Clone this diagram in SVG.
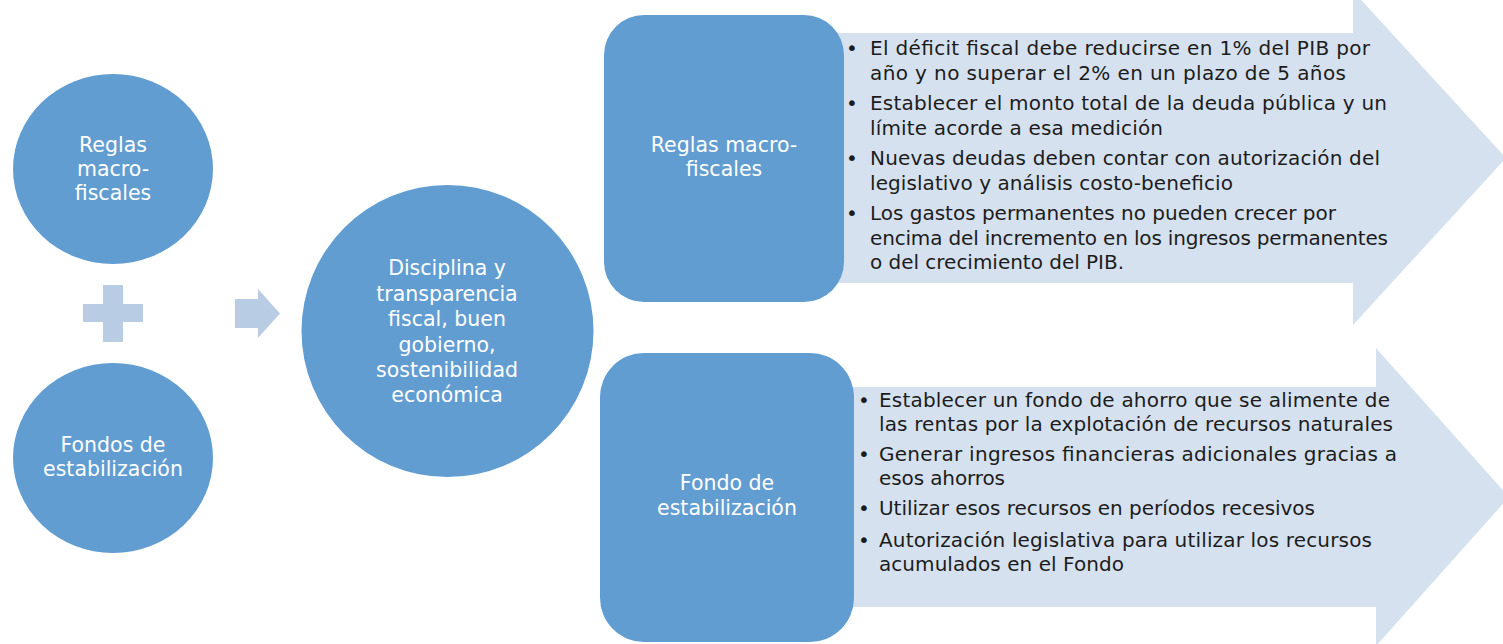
<svg xmlns="http://www.w3.org/2000/svg" width="1503" height="644" viewBox="0 0 1503 644">
<style>
.node{fill:#629DD1;}
.pale{fill:#D6E1EF;}
.conn{fill:#B8CCE4;}
.lbl{font-family:"DejaVu Sans","Liberation Sans",sans-serif;font-size:20.5px;fill:#FFFFFF;text-anchor:middle;}
.bul{font-family:"DejaVu Sans","Liberation Sans",sans-serif;font-size:20px;fill:#1C1C1C;}
</style>
<rect width="1503" height="644" fill="#FFFFFF"/>
<g id="connectors">
<path class="conn" d="M103,285 H123 V304 H143 V322 H123 V342 H103 V322 H83 V304 H103 Z"/>
<path class="conn" d="M235,299 H258 V289 L280,313.5 L258,338 V328 H235 Z"/>
</g>
<g id="arrow-top">
<path class="pale" d="M820,33 H1353 V-9 L1506,158 L1353,325 V283 H820 Z"/>
</g>
<g id="arrow-bottom">
<path class="pale" d="M830,387 H1376 V348 L1509,497 L1376,646 V607 H830 Z"/>
</g>
<g id="node-reglas-circle">
<ellipse class="node" cx="113" cy="169" rx="100" ry="95"/>
<text class="lbl"><tspan x="113" y="152">Reglas</tspan><tspan x="113" y="176">macro-</tspan><tspan x="113" y="200">fiscales</tspan></text>
</g>
<g id="node-fondos-circle">
<ellipse class="node" cx="113" cy="458" rx="100" ry="95"/>
<text class="lbl"><tspan x="113" y="452">Fondos de</tspan><tspan x="113" y="476">estabilización</tspan></text>
</g>
<g id="node-disciplina">
<circle class="node" cx="447.5" cy="331" r="146"/>
<text class="lbl"><tspan x="447" y="275">Disciplina y</tspan><tspan x="447" y="300.5">transparencia</tspan><tspan x="447" y="326">fiscal, buen</tspan><tspan x="447" y="351.5">gobierno,</tspan><tspan x="447" y="377">sostenibilidad</tspan><tspan x="447" y="402">económica</tspan></text>
</g>
<g id="node-reglas-box">
<rect class="node" x="604" y="15" width="240" height="287" rx="40" ry="40"/>
<text class="lbl"><tspan x="724" y="152">Reglas macro-</tspan><tspan x="724" y="176">fiscales</tspan></text>
</g>
<g id="node-fondo-box">
<rect class="node" x="600" y="353" width="254" height="289" rx="44" ry="44"/>
<text class="lbl"><tspan x="727" y="490">Fondo de</tspan><tspan x="727" y="515">estabilización</tspan></text>
</g>
<g id="list-reglas">
<text class="bul" x="846" y="55">•</text>
<text class="bul" x="846" y="110">•</text>
<text class="bul" x="846" y="165">•</text>
<text class="bul" x="846" y="220">•</text>
<text class="bul" x="870" y="55" textLength="500">El déficit fiscal debe reducirse en 1% del PIB por</text>
<text class="bul" x="870" y="79.5" textLength="476">año y no superar el 2% en un plazo de 5 años</text>
<text class="bul" x="870" y="110" textLength="517">Establecer el monto total de la deuda pública y un</text>
<text class="bul" x="870" y="134.5" textLength="293">límite acorde a esa medición</text>
<text class="bul" x="870" y="165" textLength="510">Nuevas deudas deben contar con autorización del</text>
<text class="bul" x="870" y="189.5" textLength="363">legislativo y análisis costo-beneficio</text>
<text class="bul" x="870" y="220" textLength="466">Los gastos permanentes no pueden crecer por</text>
<text class="bul" x="870" y="244.5" textLength="518">encima del incremento en los ingresos permanentes</text>
<text class="bul" x="870" y="269" textLength="254">o del crecimiento del PIB.</text>
</g>
<g id="list-fondo">
<text class="bul" x="858" y="407">•</text>
<text class="bul" x="858" y="461">•</text>
<text class="bul" x="858" y="515">•</text>
<text class="bul" x="858" y="547">•</text>
<text class="bul" x="879" y="407" textLength="511">Establecer un fondo de ahorro que se alimente de</text>
<text class="bul" x="879" y="431" textLength="514">las rentas por la explotación de recursos naturales</text>
<text class="bul" x="879" y="461" textLength="518">Generar ingresos financieras adicionales gracias a</text>
<text class="bul" x="879" y="485" textLength="126">esos ahorros</text>
<text class="bul" x="879" y="515" textLength="436">Utilizar esos recursos en períodos recesivos</text>
<text class="bul" x="879" y="547" textLength="493">Autorización legislativa para utilizar los recursos</text>
<text class="bul" x="879" y="571" textLength="245">acumulados en el Fondo</text>
</g>
</svg>
